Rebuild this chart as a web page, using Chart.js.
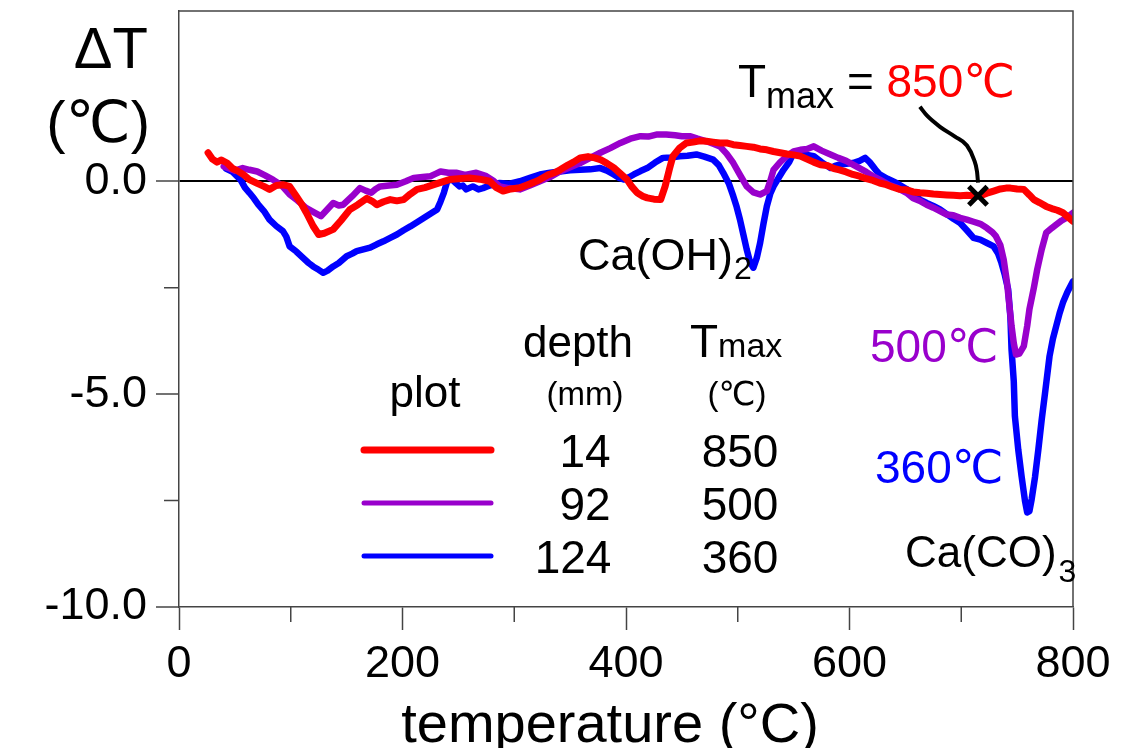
<!DOCTYPE html>
<html>
<head>
<meta charset="utf-8">
<script src="https://cdn.jsdelivr.net/npm/chart.js@4.4.1/dist/chart.umd.min.js"></script>
<style>
  html, body { margin: 0; padding: 0; background: #fff; }
  #wrap { width: 1124px; height: 748px; position: relative; }
</style>
</head>
<body>
<div id="wrap"><canvas id="dta"></canvas></div>
<script>
// depth 14 mm, Tmax 850
var redT = [26, 30, 34, 38, 43, 48, 52, 58, 63, 70, 76, 81, 87, 93, 99, 105, 110, 114, 120, 125, 130, 138, 145, 153, 160, 168, 173, 177, 183, 189, 195, 201, 207, 213, 220, 228, 235, 242, 250, 260, 269, 278, 284, 290, 297, 305, 312, 318, 323, 330, 336, 341, 348, 353, 359, 366, 372, 377, 383, 389, 395, 401, 405, 410, 415, 419, 425, 431, 435, 439, 442, 448, 454, 460, 466, 472, 478, 484, 490, 496, 502, 508, 514, 520, 526, 532, 538, 544, 550, 556, 562, 568, 574, 580, 586, 591, 597, 603, 609, 615, 621, 627, 633, 639, 645, 651, 657, 663, 669, 675, 681, 687, 693, 699, 705, 711, 717, 723, 729, 735, 740, 744, 750, 756, 761, 765, 770, 776, 781, 786, 791, 796, 800];
var redDT = [0.67, 0.52, 0.45, 0.5, 0.43, 0.3, 0.25, 0.15, 0.04, -0.05, -0.12, -0.19, -0.1, -0.08, -0.12, -0.35, -0.55, -0.74, -1.05, -1.25, -1.22, -1.13, -0.92, -0.66, -0.55, -0.4, -0.47, -0.55, -0.48, -0.43, -0.46, -0.43, -0.3, -0.19, -0.15, -0.08, -0.02, 0.04, 0.06, 0.08, 0.05, 0, -0.15, -0.23, -0.18, -0.15, -0.08, -0.02, 0.04, 0.15, 0.2, 0.27, 0.38, 0.45, 0.55, 0.58, 0.55, 0.51, 0.42, 0.32, 0.18, 0.04, -0.12, -0.27, -0.35, -0.39, -0.42, -0.43, -0.12, 0.3, 0.59, 0.78, 0.9, 0.92, 0.95, 0.94, 0.92, 0.9, 0.9, 0.86, 0.84, 0.82, 0.8, 0.76, 0.74, 0.7, 0.67, 0.64, 0.62, 0.59, 0.52, 0.45, 0.39, 0.37, 0.3, 0.27, 0.22, 0.16, 0.12, 0.06, 0.02, -0.04, -0.08, -0.14, -0.19, -0.2, -0.25, -0.27, -0.28, -0.3, -0.31, -0.32, -0.33, -0.34, -0.33, -0.34, -0.34, -0.28, -0.23, -0.18, -0.16, -0.16, -0.18, -0.19, -0.32, -0.43, -0.5, -0.59, -0.64, -0.68, -0.74, -0.85, -0.94];

// depth 92 mm, Tmax 500
var purpleT = [40, 45, 50, 57, 63, 70, 77, 84, 92, 99, 106, 114, 120, 127, 132, 138, 143, 147, 155, 162, 167, 172, 176, 180, 188, 195, 203, 210, 218, 225, 230, 234, 241, 248, 256, 266, 275, 281, 287, 295, 305, 314, 323, 332, 341, 350, 359, 368, 377, 386, 395, 404, 413, 420, 428, 436, 444, 450, 457, 464, 472, 478, 484, 490, 496, 502, 508, 514, 520, 526, 529, 532, 538, 544, 550, 556, 562, 568, 575, 583, 590, 597, 606, 615, 621, 627, 635, 643, 651, 657, 663, 669, 675, 681, 687, 693, 699, 705, 711, 717, 723, 728, 731, 735, 738, 741, 743, 745, 747, 749, 752, 756, 759, 761, 765, 768, 772, 776, 781, 785, 790, 794, 797, 800];
var purpleDT = [0.35, 0.3, 0.25, 0.31, 0.27, 0.23, 0.14, 0.04, -0.1, -0.31, -0.45, -0.63, -0.72, -0.82, -0.68, -0.51, -0.57, -0.55, -0.35, -0.16, -0.22, -0.27, -0.18, -0.12, -0.1, -0.08, 0, 0.08, 0.1, 0.12, 0.18, 0.23, 0.2, 0.2, 0.15, 0.2, 0.12, 0.02, -0.12, -0.16, -0.19, -0.1, 0, 0.1, 0.23, 0.33, 0.43, 0.55, 0.67, 0.78, 0.9, 1, 1.06, 1.05, 1.1, 1.1, 1.08, 1.06, 1.06, 1, 0.94, 0.88, 0.82, 0.65, 0.43, 0.15, -0.12, -0.26, -0.31, -0.23, 0, 0.27, 0.45, 0.59, 0.7, 0.74, 0.76, 0.82, 0.72, 0.63, 0.55, 0.48, 0.35, 0.22, 0.12, 0.04, -0.08, -0.16, -0.27, -0.4, -0.46, -0.55, -0.62, -0.7, -0.78, -0.8, -0.86, -0.9, -0.95, -1, -1.1, -1.2, -1.29, -1.5, -1.84, -2.39, -2.9, -3.4, -3.8, -4.07, -4.05, -3.87, -3.4, -3.01, -2.5, -2.07, -1.6, -1.21, -1.1, -1.02, -0.92, -0.86, -0.8, -0.74];

// depth 124 mm, Tmax 360
var blueT = [42, 48, 55, 59, 63, 67, 71, 76, 81, 87, 93, 96, 99, 105, 111, 116, 120, 125, 129, 133, 138, 143, 150, 155, 159, 165, 171, 177, 183, 189, 195, 201, 207, 213, 219, 225, 231, 234, 237, 240, 244, 248, 251, 254, 257, 263, 268, 272, 278, 287, 295, 305, 314, 323, 332, 341, 350, 359, 368, 377, 383, 389, 394, 398, 403, 407, 413, 419, 426, 433, 440, 448, 455, 463, 470, 478, 483, 487, 492, 496, 499, 502, 505, 508, 511, 514, 517, 520, 523, 526, 529, 532, 537, 541, 546, 550, 556, 562, 568, 575, 583, 587, 591, 597, 603, 609, 614, 618, 621, 624, 627, 634, 642, 651, 657, 663, 669, 675, 681, 687, 693, 699, 705, 711, 717, 723, 729, 733, 736, 739, 742, 744, 745, 747, 748, 751, 754, 757, 759, 761, 763, 766, 769, 772, 775, 779, 782, 785, 788, 791, 795, 800];
var blueDT = [0.3, 0.22, 0.04, -0.15, -0.27, -0.4, -0.55, -0.7, -0.9, -1.05, -1.17, -1.3, -1.53, -1.65, -1.8, -1.92, -2, -2.08, -2.15, -2.1, -2, -1.92, -1.76, -1.7, -1.64, -1.6, -1.56, -1.48, -1.41, -1.33, -1.25, -1.15, -1.06, -0.96, -0.86, -0.76, -0.66, -0.48, -0.27, 0, 0.05, -0.05, -0.12, -0.1, -0.19, -0.12, -0.19, -0.16, -0.1, -0.04, -0.06, 0, 0.08, 0.16, 0.2, 0.23, 0.26, 0.27, 0.28, 0.31, 0.25, 0.16, 0.08, 0.04, 0.1, 0.16, 0.24, 0.31, 0.44, 0.55, 0.56, 0.59, 0.6, 0.63, 0.58, 0.51, 0.38, 0.2, -0.05, -0.35, -0.6, -0.9, -1.25, -1.6, -1.9, -2.03, -1.8, -1.45, -1, -0.59, -0.3, -0.12, 0.1, 0.27, 0.45, 0.67, 0.65, 0.62, 0.59, 0.45, 0.31, 0.36, 0.39, 0.41, 0.43, 0.48, 0.55, 0.45, 0.35, 0.25, 0.16, 0.06, -0.04, -0.18, -0.3, -0.43, -0.51, -0.58, -0.66, -0.77, -0.88, -0.98, -1.15, -1.33, -1.37, -1.45, -1.53, -1.7, -1.92, -2.2, -2.54, -3.2, -3.95, -4.7, -5.52, -6.3, -6.93, -7.5, -7.78, -7.75, -7.47, -6.95, -6.3, -5.6, -4.97, -4.11, -3.7, -3.4, -3.1, -2.85, -2.6, -2.35];

// Tmax marker on the 14 mm curve and its leader line
var markerT = [715];
var markerDT = [-0.34];
var leaderT = [663, 669.4, 681, 694.4, 705.1, 711.4, 714.1, 715];
var leaderDT = [1.75, 1.54, 1.28, 1.05, 0.84, 0.51, 0.23, -0.03];

var xTicks = [0, 100, 200, 300, 400, 500, 600, 700, 800];
var yTicks = [-10, -7.5, -5, -2.5, 0];

var depths = ['14', '92', '124'];
var tmaxes = ['850', '500', '360'];
var colors = ['#ff0000', '#9900cc', '#0000ff'];

function pts(xs, ys) {
  return xs.map(function (x, i) { return { x: x, y: ys[i] }; });
}

var FONT = "'Liberation Sans', Arial, 'DejaVu Sans', sans-serif";

function txt(ctx, s, x, y, size, color, align) {
  ctx.font = size + 'px ' + FONT;
  ctx.fillStyle = color || '#000';
  ctx.textAlign = align || 'left';
  ctx.textBaseline = 'alphabetic';
  ctx.fillText(s, x, y);
  return ctx.measureText(s).width;
}

var decor = {
  id: 'decor',
  afterDraw: function (chart) {
    var ctx = chart.ctx;
    var a = chart.chartArea;
    var xs = chart.scales.x, ys = chart.scales.y;
    ctx.save();

    // frame top / right
    ctx.strokeStyle = '#444';
    ctx.lineWidth = 1.5;
    ctx.beginPath();
    ctx.moveTo(a.left, a.top);
    ctx.lineTo(a.right, a.top);
    ctx.lineTo(a.right, a.bottom);
    ctx.stroke();

    // minor ticks (shorter)
    ctx.beginPath();
    xTicks.forEach(function (v) {
      if (v % 200 !== 0) {
        var px = xs.getPixelForValue(v);
        ctx.moveTo(px, a.bottom);
        ctx.lineTo(px, a.bottom + 15);
      }
    });
    yTicks.forEach(function (v) {
      if (v % 5 !== 0) {
        var py = ys.getPixelForValue(v);
        ctx.moveTo(a.left - 15, py);
        ctx.lineTo(a.left, py);
      }
    });
    ctx.stroke();

    // axis titles
    txt(ctx, '\u0394T', 148, 68, 58, '#000', 'right');
    txt(ctx, '(\u2103)', 150, 142, 58, '#000', 'right');
    txt(ctx, 'temperature (\u00b0C)', 610, 742, 56, '#000', 'center');

    // legend table
    txt(ctx, 'plot', 425, 407, 44, '#000', 'center');
    txt(ctx, 'depth', 578, 357, 44, '#000', 'center');
    txt(ctx, '(mm)', 585, 405, 33, '#000', 'center');
    var w = txt(ctx, 'T', 690, 357, 46, '#000', 'left');
    txt(ctx, 'max', 690 + w, 357, 34, '#000', 'left');
    txt(ctx, '(\u2103)', 737, 405, 33, '#000', 'center');
    var rows = [467, 520, 573];
    ctx.lineCap = 'round';
    rows.forEach(function (yy, i) {
      ctx.strokeStyle = colors[i];
      ctx.lineWidth = i === 0 ? 7 : 5;
      ctx.beginPath();
      ctx.moveTo(364, yy - 17);
      ctx.lineTo(491, yy - 17);
      ctx.stroke();
      txt(ctx, depths[i], i === 2 ? 573 : 585, yy, 46, '#000', 'center');
      txt(ctx, tmaxes[i], 740, yy, 46, '#000', 'center');
    });

    // peak labels
    var cw = txt(ctx, 'Ca(OH)', 578, 270, 45, '#000', 'left');
    txt(ctx, '2', 578 + cw + 1, 279, 32, '#000', 'left');
    cw = txt(ctx, 'Ca(CO)', 905, 567, 44, '#000', 'left');
    txt(ctx, '3', 905 + cw + 2, 582, 32, '#000', 'left');
    txt(ctx, '500\u2103', 870, 362, 46, colors[1], 'left');
    txt(ctx, '360\u2103', 875, 483, 46, colors[2], 'left');

    // Tmax = 850 annotation
    var tw = txt(ctx, 'T', 738, 97, 46, '#000', 'left');
    var mw = txt(ctx, 'max', 738 + tw, 108, 36, '#000', 'left');
    var ew = txt(ctx, ' = ', 738 + tw + mw, 97, 46, '#000', 'left');
    txt(ctx, '850\u2103', 738 + tw + mw + ew, 97, 46, colors[0], 'left');

    ctx.restore();
  }
};

var lineBase = {
  pointRadius: 0,
  tension: 0,
  fill: false,
  borderJoinStyle: 'round',
  borderCapStyle: 'round'
};

new Chart(document.getElementById('dta'), {
  type: 'line',
  data: {
    datasets: [
      Object.assign({ label: '14', data: pts(redT, redDT), borderColor: colors[0], borderWidth: 7, order: 2 }, lineBase),
      Object.assign({ label: '92', data: pts(purpleT, purpleDT), borderColor: colors[1], borderWidth: 6.5, order: 3 }, lineBase),
      Object.assign({ label: '124', data: pts(blueT, blueDT), borderColor: colors[2], borderWidth: 6.5, order: 4 }, lineBase),
      {
        label: 'leader', data: pts(leaderT, leaderDT), borderColor: '#000', borderWidth: 4,
        pointRadius: 0, fill: false, cubicInterpolationMode: 'monotone', order: 1
      },
      {
        type: 'scatter', label: 'Tmax', data: pts(markerT, markerDT),
        pointStyle: 'crossRot', pointRadius: 13, borderColor: '#000', borderWidth: 5, order: 0
      }
    ]
  },
  options: {
    responsive: true,
    maintainAspectRatio: false,
    animation: false,
    layout: { autoPadding: false, padding: { top: 11, right: 51, left: 0, bottom: 0 } },
    plugins: { legend: { display: false }, tooltip: { enabled: false } },
    scales: {
      x: {
        type: 'linear',
        min: 0,
        max: 800,
        afterBuildTicks: function (s) { s.ticks = xTicks.map(function (v) { return { value: v }; }); },
        afterFit: function (s) { s.height = 141; s.paddingLeft = 0; s.paddingRight = 0; },
        border: { color: '#444', width: 1.5 },
        grid: {
          drawOnChartArea: false,
          drawTicks: true,
          tickLength: 23,
          tickWidth: 1.5,
          tickColor: function (c) { return c.tick && c.tick.value % 200 === 0 ? '#444' : 'rgba(0,0,0,0)'; }
        },
        ticks: {
          padding: 8,
          maxRotation: 0,
          color: '#000',
          font: { family: FONT, size: 45 },
          callback: function (v) { return v % 200 === 0 ? String(v) : ''; }
        }
      },
      y: {
        min: -10,
        max: 4,
        afterBuildTicks: function (s) { s.ticks = yTicks.map(function (v) { return { value: v }; }); },
        afterFit: function (s) { s.width = 179; s.paddingTop = 0; s.paddingBottom = 0; },
        border: { color: '#444', width: 1.5 },
        grid: {
          drawTicks: true,
          tickLength: 23,
          tickWidth: 1.5,
          color: function (c) { return c.tick && c.tick.value === 0 ? '#000' : 'rgba(0,0,0,0)'; },
          lineWidth: 2,
          tickColor: function (c) { return c.tick && c.tick.value % 5 === 0 ? '#444' : 'rgba(0,0,0,0)'; }
        },
        ticks: {
          padding: 9,
          color: '#000',
          font: { family: FONT, size: 45 },
          callback: function (v) { return v % 5 === 0 ? v.toFixed(1) : ''; }
        }
      }
    }
  },
  plugins: [decor]
});
</script>
</body>
</html>
